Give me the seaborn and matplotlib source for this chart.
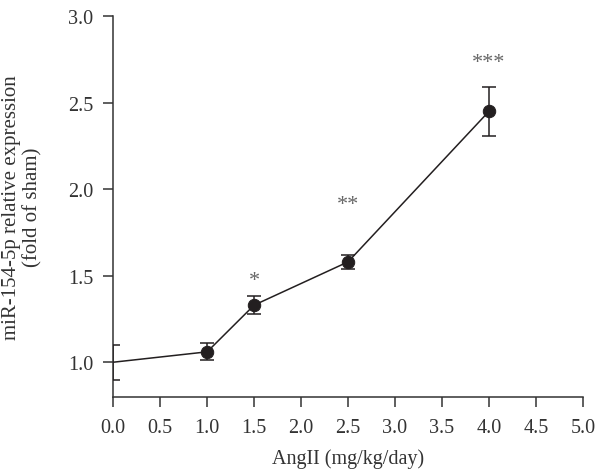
import numpy as np
import pandas as pd
import seaborn as sns
import matplotlib.pyplot as plt

# values
doses = [0.0, 1.0, 1.5, 2.5, 4.0]
expr = [1.00, 1.06, 1.33, 1.58, 2.45]
sem = [0.10, 0.05, 0.05, 0.04, 0.14]
stars = ['', '', '*', '**', '***']
star_y = [None, None, 1.47, 1.91, 2.73]

df = pd.DataFrame({'dose': doses, 'expr': expr, 'sem': sem})

sns.set_style('ticks')
plt.rcParams['font.family'] = ['Liberation Serif', 'DejaVu Serif']

ink = '#231f20'
fig = plt.figure(figsize=(5.96, 4.77), dpi=100)
ax = fig.add_axes([0.190, 0.166, 0.788, 0.798])

sns.lineplot(data=df, x='dose', y='expr', color=ink, linewidth=1.1, ax=ax)
ax.errorbar(df['dose'], df['expr'], yerr=df['sem'], fmt='none', ecolor=ink,
            elinewidth=1.1, capsize=5, capthick=1.1, zorder=3)
sns.scatterplot(data=df.iloc[1:], x='dose', y='expr', color=ink, s=80,
                edgecolor=ink, zorder=4, ax=ax)

for x, s, sy in zip(doses, stars, star_y):
    if s:
        ax.text(x, sy, s, ha='center', va='center', fontsize=16, color='#666666')

ax.set_xlim(0, 5)
ax.set_ylim(0.8, 3.0)
ax.set_xticks(np.arange(0, 5.01, 0.5))
ax.set_yticks(np.arange(1.0, 3.01, 0.5))
ax.xaxis.set_major_formatter(plt.FormatStrFormatter('%.1f'))
ax.yaxis.set_major_formatter(plt.FormatStrFormatter('%.1f'))
ax.tick_params(labelsize=14.5, length=7.5, width=1.1, colors='#333333')
ax.tick_params(axis='x', pad=8)
ax.tick_params(axis='y', pad=7)
ax.set_xlabel('AngII (mg/kg/day)', fontsize=14.5, color='#333333')
ax.set_ylabel('miR-154-5p relative expression\n(fold of sham)', fontsize=15,
              color='#333333', linespacing=1.15)
ax.xaxis.set_label_coords(0.5, -0.136)
ax.yaxis.set_label_coords(-0.15, 0.5)
sns.despine(ax=ax)
for sp in ax.spines.values():
    sp.set_linewidth(1.1)
    sp.set_color('#333333')

fig.savefig('out.png', dpi=100)
